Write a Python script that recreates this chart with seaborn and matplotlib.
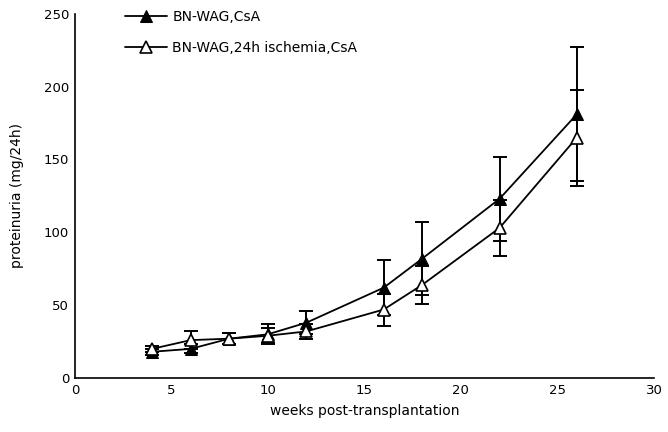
import numpy as np
import pandas as pd
import matplotlib
matplotlib.use("Agg")
import matplotlib.pyplot as plt
import seaborn as sns

weeks = [4, 6, 8, 10, 12, 16, 18, 22, 26]
csa_mean = [18, 20, 27, 30, 38, 62, 82, 123, 181]
csa_err = [2, 3, 4, 7, 8, 19, 25, 29, 46]
isch_mean = [20, 26, 27, 29, 32, 47, 64, 103, 165]
isch_err = [2, 6, 4, 5, 5, 11, 13, 19, 33]

label_csa = "BN-WAG,CsA"
label_isch = "BN-WAG,24h ischemia,CsA"

df = pd.DataFrame({
    "week": weeks * 2,
    "protein": csa_mean + isch_mean,
    "group": [label_csa] * len(weeks) + [label_isch] * len(weeks),
})

sns.set_style("white")
plt.rcParams["font.family"] = ["DejaVu Sans"]
plt.rcParams["text.color"] = "black"
plt.rcParams["axes.labelcolor"] = "black"
plt.rcParams["xtick.color"] = "black"
plt.rcParams["ytick.color"] = "black"

fig = plt.figure(figsize=(6.68, 4.32), dpi=100)
ax = fig.add_axes([0.112, 0.125, 0.867, 0.843])

# error bars first so markers sit on top
ax.errorbar(weeks, csa_mean, yerr=csa_err, fmt="none", ecolor="black",
            elinewidth=1.4, capsize=5, capthick=1.4, zorder=2)
ax.errorbar(weeks, isch_mean, yerr=isch_err, fmt="none", ecolor="black",
            elinewidth=1.4, capsize=5, capthick=1.4, zorder=2)

sns.lineplot(data=df[df.group == label_csa], x="week", y="protein", ax=ax,
             color="black", lw=1.3, marker="^", markersize=8.5,
             markerfacecolor="black", markeredgecolor="black",
             label=label_csa, zorder=3)
sns.lineplot(data=df[df.group == label_isch], x="week", y="protein", ax=ax,
             color="black", lw=1.3, marker="^", markersize=8.5,
             markerfacecolor="white", markeredgecolor="black",
             markeredgewidth=1.2, label=label_isch, zorder=3)

ax.set_xlim(0, 30)
ax.set_ylim(0, 250)
ax.set_xticks([0, 5, 10, 15, 20, 25, 30])
ax.set_yticks([0, 50, 100, 150, 200, 250])
ax.tick_params(direction="in", length=4, width=1, labelsize=9.5,
               color="black", labelcolor="black", pad=4)
for s in ["top", "right"]:
    ax.spines[s].set_visible(False)
for s in ["left", "bottom"]:
    ax.spines[s].set_color("black")
    ax.spines[s].set_linewidth(1.2)

ax.set_xlabel("weeks post-transplantation", fontsize=10, labelpad=5,
              color="black")
ax.set_ylabel("proteinuria (mg/24h)", fontsize=10, labelpad=14,
              color="black")

leg = ax.legend(loc="upper left", bbox_to_anchor=(0.065, 1.045),
                frameon=False, fontsize=10, handlelength=3.0,
                labelspacing=1.25, handletextpad=0.4)
for t in leg.get_texts():
    t.set_color("black")

fig.savefig("out.png", dpi=100, facecolor="white")
